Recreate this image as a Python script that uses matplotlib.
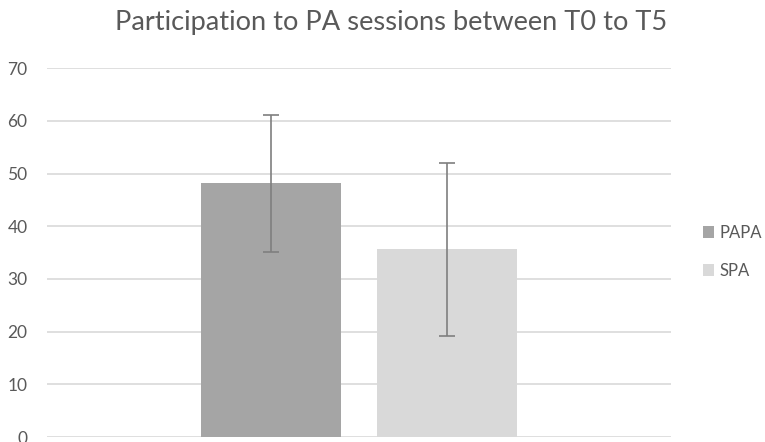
import matplotlib
matplotlib.use("Agg")
import matplotlib.pyplot as plt
from matplotlib.patches import Patch

categories = ["PAPA", "SPA"]
means = [48.2, 35.6]
errors = [13.0, 16.5]
colors = ["#a5a5a5", "#d9d9d9"]
yticks = [0, 10, 20, 30, 40, 50, 60, 70]
title = "Participation to PA sessions between T0 to T5"

plt.rcParams['font.family'] = ['Lato', 'DejaVu Sans']

fig = plt.figure(figsize=(7.65, 4.42), dpi=100)
ax = fig.add_axes([0.0614, 0.0113, 0.8157, 0.8342])

offsets = [-0.141, 0.141]
width = 0.2244
for off, m, e, c, lab in zip(offsets, means, errors, colors, categories):
    ax.bar(off, m, width=width, color=c, label=lab, zorder=2)
    ax.errorbar(off, m, yerr=e, fmt='none', ecolor='#7f7f7f', elinewidth=1.2,
                capsize=5.5, capthick=1.2, zorder=3)

ax.set_xlim(-0.5, 0.5)
ax.set_ylim(0, 70)
ax.set_yticks(yticks)
ax.set_xticks([])
ax.yaxis.grid(True, color='#d9d9d9', linewidth=1.2, zorder=0)
ax.set_axisbelow(True)
for s in ax.spines.values():
    s.set_visible(False)
ax.tick_params(axis='y', length=0, pad=14, labelsize=12.5, labelcolor='#595959')
for lbl in ax.get_yticklabels():
    lbl.set_ha('right')

fig.text(0.511, 0.95, title, ha='center', va='center', fontsize=19.6, color='#595959')

handles = [Patch(facecolor=c, edgecolor='none') for c in colors]
fig.legend(handles, categories, loc='center left', bbox_to_anchor=(0.899, 0.43),
           frameon=False, fontsize=12, labelcolor='#595959', handlelength=0.7,
           handleheight=0.7, handletextpad=0.3, labelspacing=1.3)

fig.savefig("out.png", dpi=100)
